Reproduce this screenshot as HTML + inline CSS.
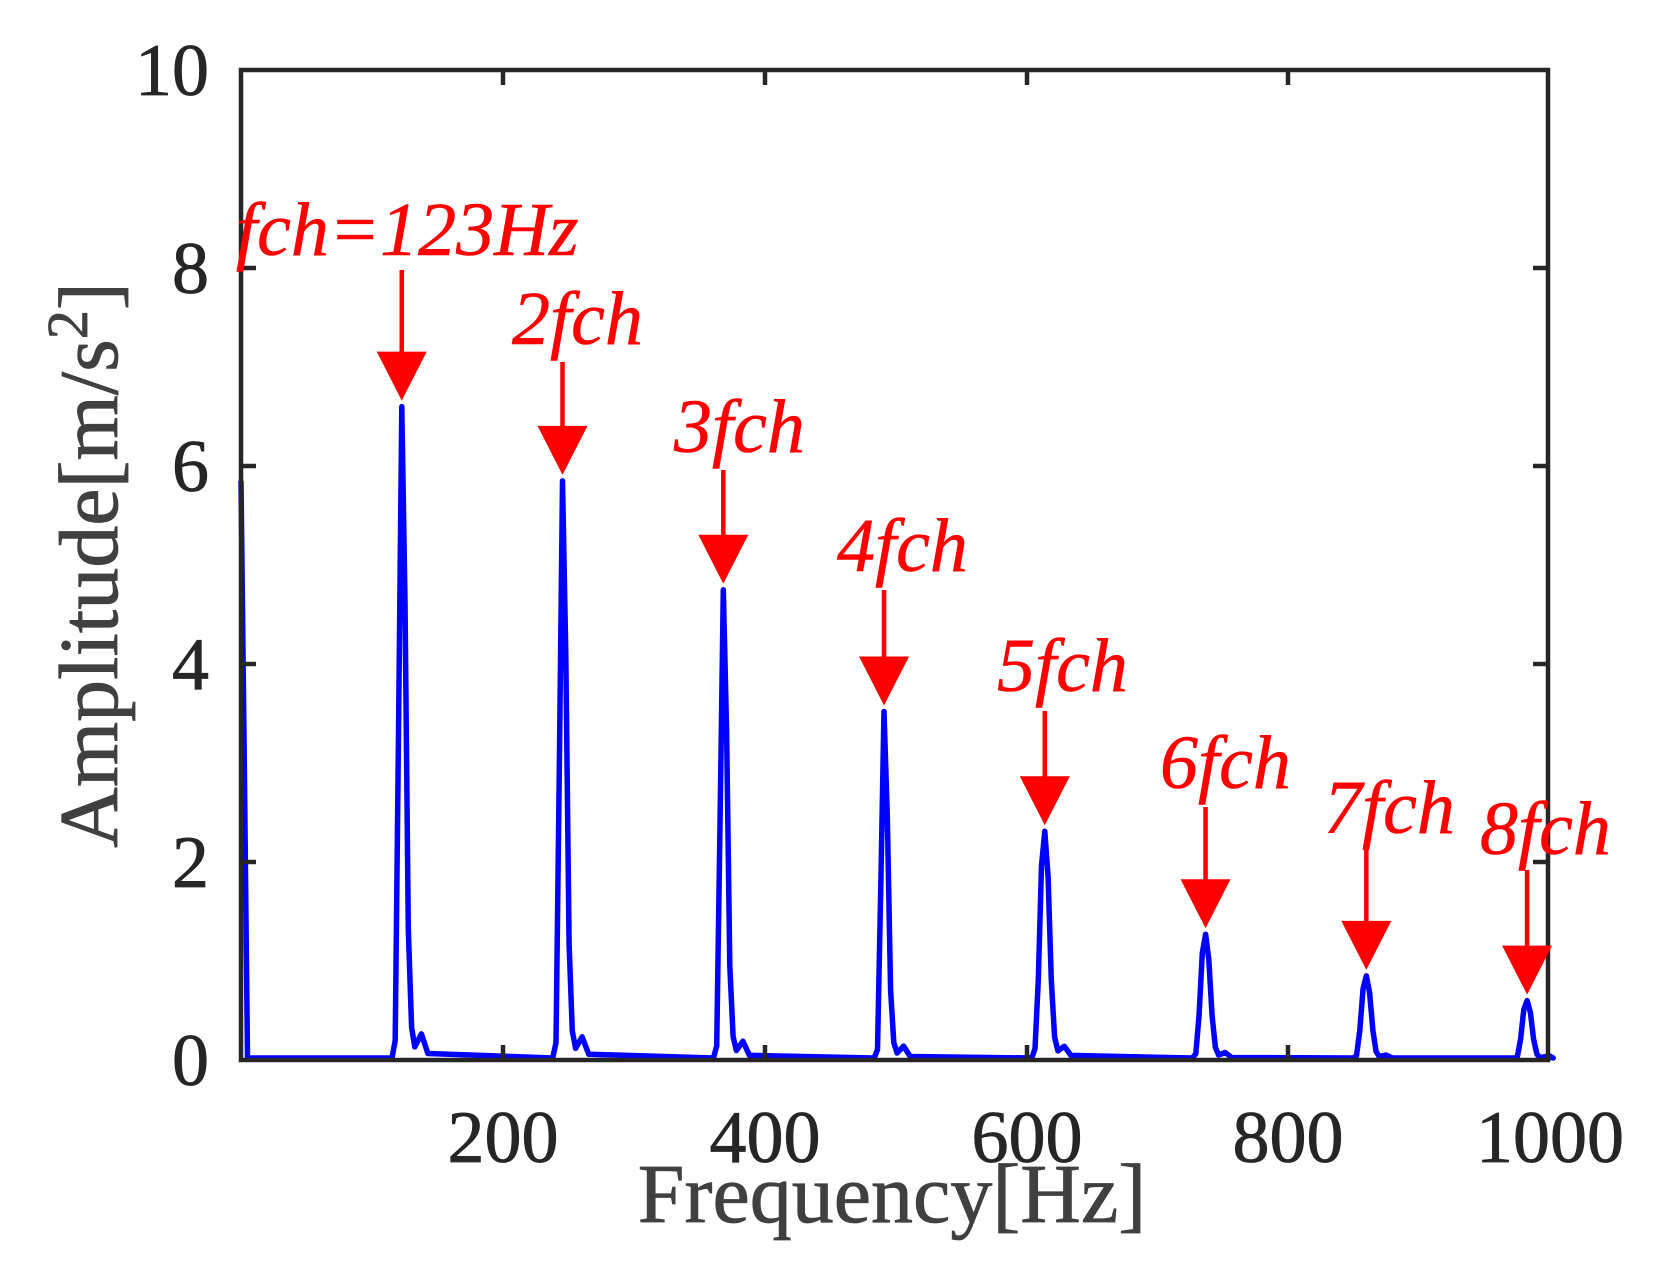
<!DOCTYPE html>
<html><head><meta charset="utf-8"><style>
html,body{margin:0;padding:0;background:#fff;}
svg{display:block;}
text{font-family:"Liberation Serif",serif;}
</style></head><body>
<svg id="s" width="1660" height="1275" viewBox="0 0 1660 1275" xmlns="http://www.w3.org/2000/svg">
<rect width="1660" height="1275" fill="#fff"/>
<path id="spec" fill="none" stroke="#0000ff" stroke-width="5.5" stroke-linejoin="round" d=""/>
<g stroke="#262626" stroke-width="4.5" fill="none">
<rect x="241" y="70" width="1307" height="990"/>
<path d="M503 1060v-15M765 1060v-15M1027 1060v-15M1288 1060v-15M503 70v15M765 70v15M1027 70v15M1288 70v15
M241 862h15M241 664h15M241 466h15M241 268h15M1548 862h-15M1548 664h-15M1548 466h-15M1548 268h-15"/>
</g>
<g font-size="74" fill="#262626" text-anchor="end" stroke="#262626" stroke-width="0.8">
<text x="209" y="1085">0</text>
<text x="209" y="887">2</text>
<text x="209" y="689">4</text>
<text x="209" y="491">6</text>
<text x="209" y="293">8</text>
<text x="209" y="95">10</text>
</g>
<g font-size="74" fill="#262626" text-anchor="middle" stroke="#262626" stroke-width="0.8">
<text x="503" y="1162">200</text>
<text x="765" y="1162">400</text>
<text x="1027" y="1162">600</text>
<text x="1288" y="1162">800</text>
<text x="1550" y="1162">1000</text>
</g>
<text x="892" y="1222" font-size="84" fill="#404040" stroke="#404040" stroke-width="0.8" text-anchor="middle">Frequency[Hz]</text>
<text transform="translate(117,565) rotate(-90)" font-size="84" fill="#404040" stroke="#404040" stroke-width="0.8" text-anchor="middle">Amplitude[m/s<tspan dy="-30" font-size="58">2</tspan><tspan dy="30">]</tspan></text>
<g id="ann" fill="#ff0000" stroke="none"></g>
</svg>
<script>
var X=function(f){return 241+f*1.307;},Y=function(v){return 1060-v*99;};
var pts=[[0,5.85],[2.5,3],[5,0.02]];
var peaks=[[123,6.6],[246,5.85],[369,4.75],[492,3.52],[615,2.31],[738,1.27],[861,0.85],[984,0.6]];
var shape=[[-7.5,0],[-5,0.03],[-2.5,0.5],[0,1],[2.5,0.7],[5,0.2],[7.5,0.05],[10,0.02],[15,0.04],[20,0.01]];
var shape2=[[-10,0],[-7.5,0.05],[-5,0.35],[-2.5,0.85],[0,1],[2.5,0.8],[5,0.35],[7.5,0.1],[10,0.04],[15,0.06],[20,0.02]];
peaks.forEach(function(p,i){
  var sh=i<4?shape:shape2;
  sh.forEach(function(s){pts.push([p[0]+s[0],p[1]*s[1]]);});
});
pts.push([1000,0.05]);
var d=pts.map(function(p,i){return (i?'L':'M')+X(p[0]).toFixed(1)+' '+Math.min(1058,Y(p[1])).toFixed(1);}).join(' ');
document.getElementById('spec').setAttribute('d',d);
var labs=[["fch=123Hz",236,255,270],["2fch",512,344,362],["3fch",674,452,470],["4fch",837,571,590],["5fch",997,691,711],["6fch",1160,788,807],["7fch",1324,833,848],["8fch",1480,854,870]];
var g=document.getElementById('ann'),h='';
peaks.forEach(function(p,i){
  var x=X(p[0]),tip=Y(p[1])-6,top=tip-49,L=labs[i];
  h+='<line x1="'+x+'" y1="'+L[3]+'" x2="'+x+'" y2="'+(top+2)+'" stroke="#ff0000" stroke-width="4.5"/>';
  h+='<polygon points="'+(x-25)+','+top+' '+(x+25)+','+top+' '+x+','+tip+'"/>';
  h+='<text x="'+L[1]+'" y="'+L[2]+'" font-size="76" font-style="italic" stroke="#ff0000" stroke-width="0.6">'+L[0]+'</text>';
});
g.innerHTML=h;
</script>
</body></html>
